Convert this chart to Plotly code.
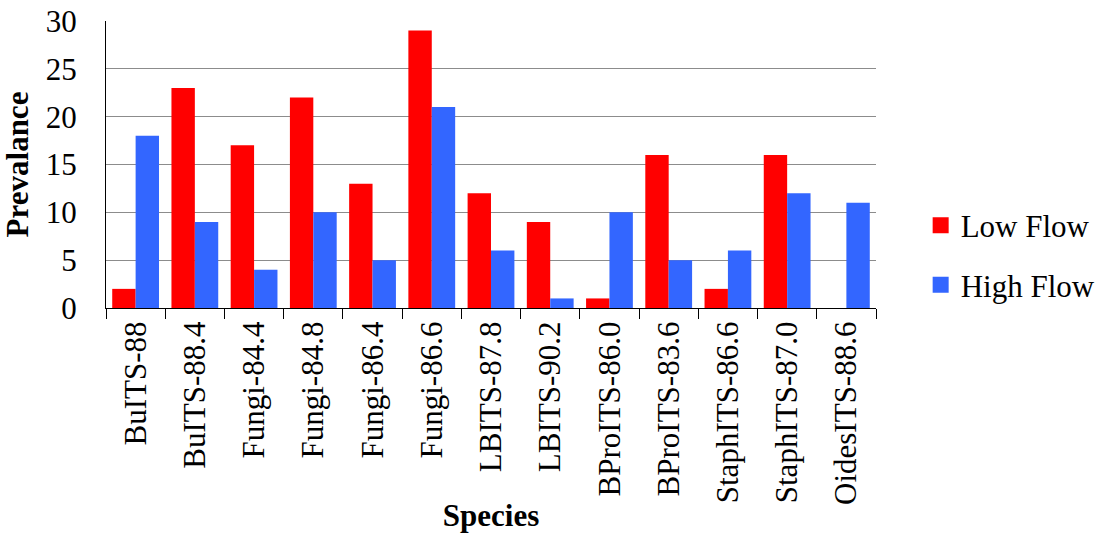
import plotly.graph_objects as go

species = ["BuITS-88", "BuITS-88.4", "Fungi-84.4", "Fungi-84.8", "Fungi-86.4",
           "Fungi-86.6", "LBITS-87.8", "LBITS-90.2", "BProITS-86.0", "BProITS-83.6",
           "StaphITS-86.6", "StaphITS-87.0", "OidesITS-88.6"]
low_flow = [2, 23, 17, 22, 13, 29, 12, 9, 1, 16, 2, 16, 0]
high_flow = [18, 9, 4, 10, 5, 21, 6, 1, 10, 5, 6, 12, 11]
y_ticks = [0, 5, 10, 15, 20, 25, 30]

FONT = "'Times New Roman', 'Liberation Serif', 'DejaVu Serif', serif"
series = [("Low Flow", low_flow, "#FF0000"), ("High Flow", high_flow, "#3366FF")]

fig = go.Figure()
for name, values, color in series:
    fig.add_trace(go.Bar(x=species, y=values, name=name, showlegend=False,
                         marker=dict(color=color, line=dict(width=0))))
# Legend keys: larger square swatches than the default bar key
for name, values, color in series:
    fig.add_trace(go.Scatter(x=[None], y=[None], mode="markers", name=name,
                             legendgroup=name,
                             marker=dict(symbol="square", size=16, color=color)))

fig.update_layout(
    width=1099, height=533,
    margin=dict(l=105.5, r=223, t=20.7, b=224.7, autoexpand=False),
    paper_bgcolor="white", plot_bgcolor="white",
    barmode="group", bargap=0.21, bargroupgap=0,
    font=dict(family=FONT, size=31, color="black"),
    legend=dict(x=1.058, y=0.184, xanchor="left", yanchor="middle",
                traceorder="grouped", tracegroupgap=16, itemsizing="trace",
                font=dict(family=FONT, size=31, color="black"),
                bgcolor="rgba(0,0,0,0)"),
    xaxis=dict(
        tickson="boundaries", ticks="outside", ticklen=10, tickwidth=1.3,
        tickcolor="black", tickangle=-90,
        showline=True, linecolor="black", linewidth=1.3,
        showgrid=False, automargin=False,
        tickfont=dict(family=FONT, size=31),
        title=dict(text="<b>Species</b>", standoff=10,
                   font=dict(family=FONT, size=31)),
    ),
    yaxis=dict(
        range=[0, 30], tickvals=y_ticks, ticks="", ticklabelstandoff=22,
        showline=True, linecolor="black", linewidth=1.3,
        showgrid=True, gridcolor="#8c8c8c", gridwidth=1,
        zeroline=False, automargin=False,
        tickfont=dict(family=FONT, size=31),
        title=dict(text="<b>Prevalance</b>", standoff=8,
                   font=dict(family=FONT, size=31)),
    ),
)

fig.write_html("out.html")
